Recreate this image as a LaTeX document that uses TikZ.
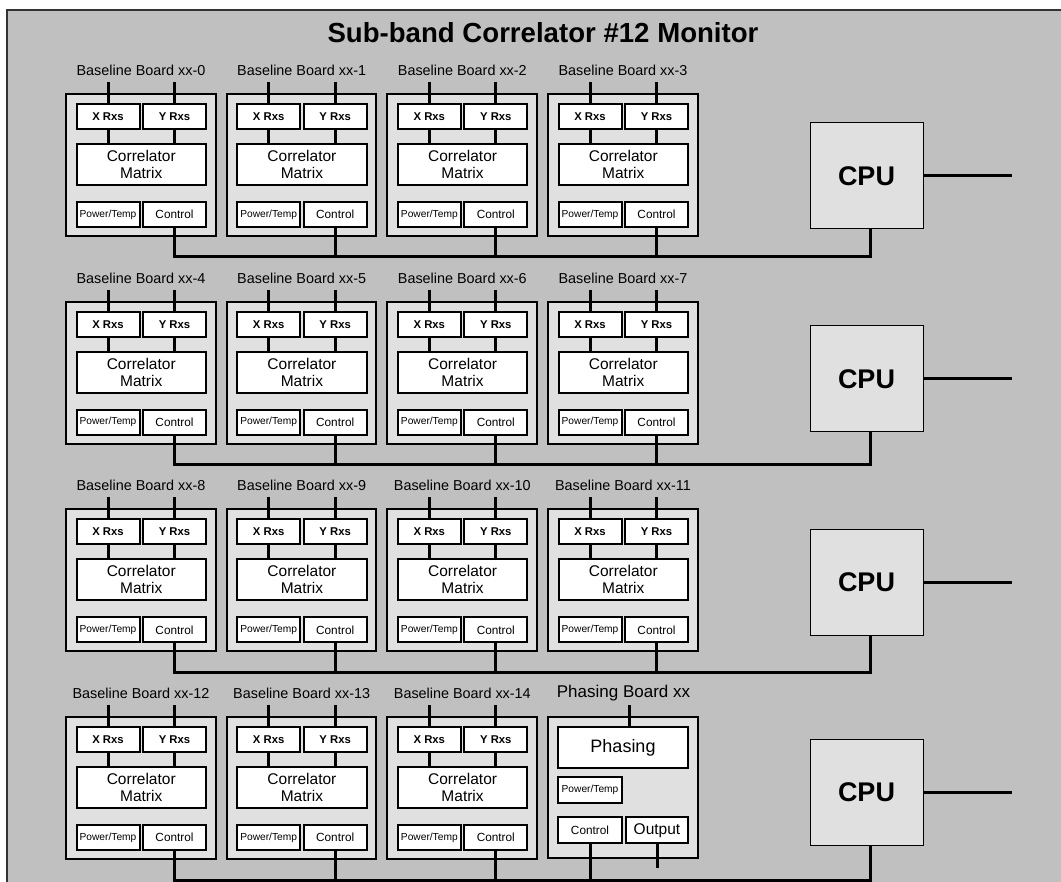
\documentclass[tikz,border=0pt]{standalone}
\usepackage{fontspec}
\setmainfont{Liberation Sans}
\definecolor{bg}{HTML}{C0C0C0}
\definecolor{bd}{HTML}{E0E0E0}
\begin{document}
\begin{tikzpicture}[x=1pt,y=-1pt,
  board/.style={draw, line width=2pt, fill=bd, inner sep=0pt, minimum width=149.5pt},
  wbox/.style={draw, line width=2pt, fill=white, inner sep=0pt, align=center},
  small/.style={wbox, minimum width=63pt, minimum height=25pt},
  wire/.style={line width=3pt},
  lbl/.style={inner sep=0pt, font=\fontsize{14.4}{16}\selectfont},
  cpu/.style={draw, line width=1pt, fill=bd, inner sep=0pt, minimum width=113pt, minimum height=106pt, font=\bfseries\fontsize{27}{30}\selectfont}
]
\useasboundingbox (0,0) rectangle (1061,882);
\fill[bg] (7,10) rectangle (1061,882);
\draw[line width=1.5pt, black!80] (7,882) -- (7,10) -- (1061,10);

\node[inner sep=0pt, font=\bfseries\fontsize{27.6}{30}\selectfont] (title) at (543,33) {Sub-band Correlator \#12 Monitor};

% CPUs
\node[cpu] (CPU0) at (866.5,176) {CPU};
\node[cpu] (CPU1) at (866.5,379) {CPU};
\node[cpu] (CPU2) at (866.5,582.5) {CPU};
\node[cpu] (CPU3) at (866.5,792) {CPU};
\foreach \r in {0,1,2,3} {
  \coordinate (out\r) at (1012, 0 |- CPU\r.east);
  \draw[wire] (CPU\r.east) -- (out\r |- CPU\r.east);
}

\foreach \r in {0,1,2,3} {
  \pgfmathsetmacro\T{94+207.67*\r}
  \coordinate (bus\r) at (870,\T+163);
  \foreach \c in {0,1,2,3} {
    \pgfmathsetmacro\L{66+160.67*\c}
    \pgfmathtruncatemacro\n{4*\r+\c}
    \ifnum\n<15
      \node[board, minimum height=142pt] (B\n) at (\L+74.75,\T+71) {};
      \node[lbl] (L\n) at (\L+75,\T-23.5) {Baseline Board xx-\n};
      \node[small, font=\bfseries\fontsize{11.3}{13}\selectfont] (X\n) at (\L+42,\T+22.5) {X Rxs};
      \node[small, font=\bfseries\fontsize{11.3}{13}\selectfont] (Y\n) at (\L+108.5,\T+22.5) {Y Rxs};
      \node[wbox, minimum width=129.5pt, minimum height=41pt, font=\fontsize{15.5}{17}\selectfont] (M\n) at (\L+75.25,\T+70.5) {Correlator\\Matrix};
      \node[small, font=\fontsize{10.2}{12}\selectfont] (P\n) at (\L+42,\T+120.5) {Power/Temp};
      \node[small, font=\fontsize{11.8}{13}\selectfont] (C\n) at (\L+108.5,\T+120.5) {Control};
      \coordinate (xt\n) at (\L+42,\T-12);
      \coordinate (yt\n) at (\L+108.5,\T-12);
      \draw[wire] (xt\n) -- (X\n.north);
      \draw[wire] (yt\n) -- (Y\n.north);
      \draw[wire] (X\n.south) -- (X\n.south |- M\n.north);
      \draw[wire] (Y\n.south) -- (Y\n.south |- M\n.north);
      \ifnum\c=0
        \draw[wire] (C\n.south) |- (bus\r) -- (bus\r |- CPU\r.south);
      \else
        \draw[wire] (C\n.south) -- (C\n.south |- bus\r);
      \fi
    \fi
  }
}

% Phasing board
\node[board, minimum height=141pt] (PB) at (622.75,787.5) {};
\node[inner sep=0pt, font=\fontsize{17}{19}\selectfont] (PL) at (623.5,693) {Phasing Board xx};
\node[wbox, minimum width=130pt, minimum height=41pt, font=\fontsize{18}{20}\selectfont] (PH) at (623,747.5) {Phasing};
\node[wbox, minimum width=64pt, minimum height=26pt, font=\fontsize{10.2}{12}\selectfont] (PP) at (590,790) {Power/Temp};
\node[wbox, minimum width=64pt, minimum height=26pt, font=\fontsize{11.8}{13}\selectfont] (PC) at (590,830) {Control};
\node[wbox, minimum width=62pt, minimum height=26pt, text height=11pt, text depth=3pt, font=\fontsize{15.5}{17}\selectfont] (PO) at (657,830) {Output};
\coordinate (pt) at (629,705);
\coordinate (po) at (657,868);
\draw[wire] (pt) -- (pt |- PH.north);
\draw[wire] (PC.south) -- (PC.south |- bus3);
\draw[wire] (PO.south) -- (po);
\end{tikzpicture}
\end{document}
